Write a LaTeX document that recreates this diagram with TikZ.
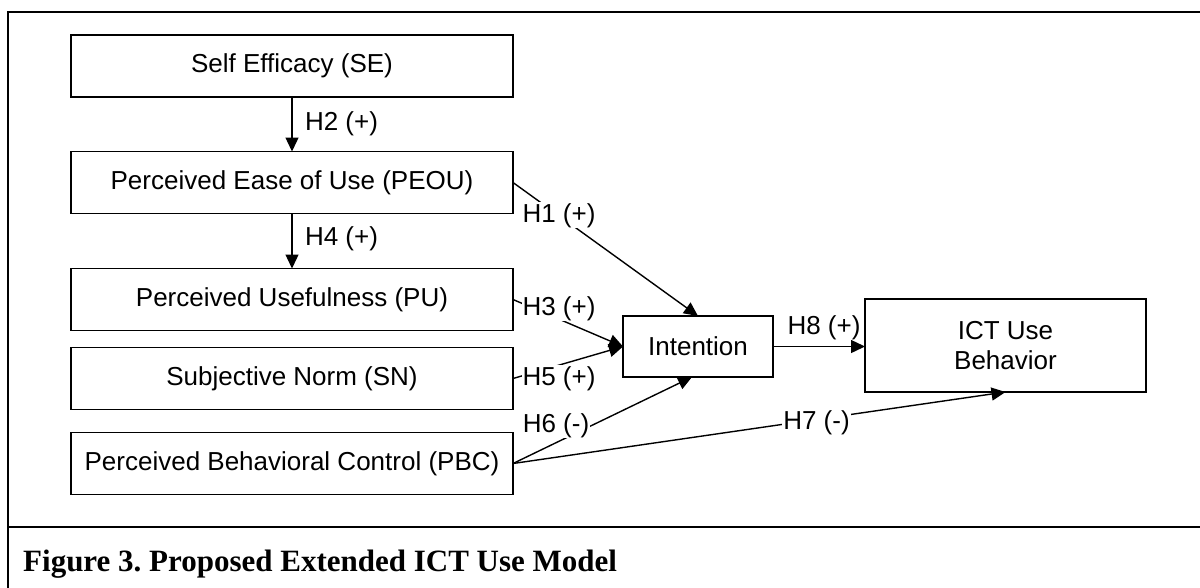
\documentclass[tikz,border=0pt]{standalone}
\usepackage{fontspec}
\setmainfont{Liberation Sans}
\newfontfamily\capfont{Liberation Serif}
\usetikzlibrary{arrows.meta}

\tikzset{
  construct/.style={draw=black, line width=1.6pt, rectangle, inner sep=0pt, outer sep=0pt,
    minimum width=442pt, minimum height=62pt, align=center,
    font=\fontsize{26}{30}\selectfont},
  hyp/.style={line width=1.4pt, -{Triangle[length=14pt,width=13pt]}},
  hlabel/.style={fill=white, inner sep=1pt, text height=19pt, text depth=5pt,
    font=\fontsize{26}{30}\selectfont},
  frame/.style={line width=2pt, line cap=rect}
}

\begin{document}
\frenchspacing
\begin{tikzpicture}[x=1pt, y=-1pt]
  \useasboundingbox (0,0) rectangle (1200,587);

  % outer frame and caption rule
  \draw[frame] (1200,12) -- (8,12) -- (8,587);
  \draw[frame] (8,527) -- (1200,527);

  % constructs
  \node[construct] (se)   at (292,66)    {Self Efficacy (SE)};
  \node[construct] (peou) at (292,182.5) {Perceived Ease of Use (PEOU)};
  \node[construct] (pu)   at (292,299.5) {Perceived Usefulness (PU)};
  \node[construct] (sn)   at (292,378.5) {Subjective Norm (SN)};
  \node[construct] (pbc)  at (292,463.5) {Perceived Behavioral Control (PBC)};
  \node[construct, minimum width=150pt, minimum height=61pt] (int) at (698,346.5) {Intention};
  \node[construct, minimum width=281pt, minimum height=93pt] (ict) at (1005.5,345.5) {ICT Use\\Behavior};

  % hypothesised paths
  \draw[hyp] (se) -- (peou);
  \draw[hyp] (peou) -- (pu);
  \draw[hyp] (peou.east) -- (int.north);
  \draw[hyp] (pu.east) -- (int.west);
  \draw[hyp] (sn.east) -- (int.west);
  \draw[hyp] (pbc.east) -- ([xshift=-6pt]int.south);
  \draw[hyp] (pbc.east) -- (ict.south);
  \draw[hyp] (int.east) -- (int.east -| ict.west);

  % path labels
  \node[hlabel] (h2) at (341.5,123) {H2 (+)};
  \node[hlabel] (h4) at (341.5,238) {H4 (+)};
  \node[hlabel] (h1) at (559,215)   {H1 (+)};
  \node[hlabel] (h3) at (559,308)   {H3 (+)};
  \node[hlabel] (h5) at (559,378)   {H5 (+)};
  \node[hlabel] (h6) at (556,425)   {H6 (-)};
  \node[hlabel] (h7) at (816.5,422) {H7 (-)};
  \node[hlabel] (h8) at (824,327)   {H8 (+)};

  % caption
  \node[anchor=base west, inner sep=0pt, font=\capfont\bfseries\fontsize{31}{35}\selectfont]
    (caption) at (23,571) {Figure 3. Proposed Extended ICT Use Model};
\end{tikzpicture}
\end{document}
